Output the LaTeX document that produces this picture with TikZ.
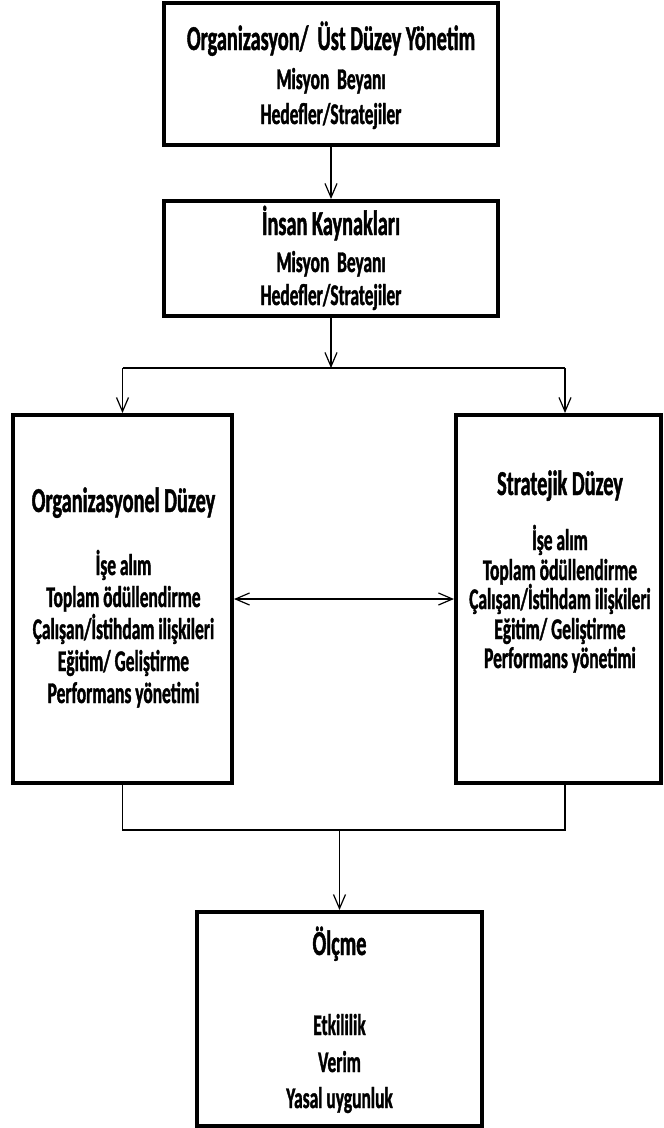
\documentclass[tikz,border=0pt]{standalone}
\usepackage{fontspec}
\setmainfont{Carlito}[FakeStretch=0.58, FakeBold=1.2]
\usetikzlibrary{arrows.meta}
\begin{document}
\begin{tikzpicture}[x=1pt,y=-1pt,
  panel/.style={draw, line width=4pt, inner sep=0pt},
  conn/.style={draw, line width=1.3pt},
  tip/.style={-{Straight Barb[length=14pt,width=12pt,line width=1.2pt]}},
  twotip/.style={{Straight Barb[length=14pt,width=12pt,line width=1.2pt]}-{Straight Barb[length=14pt,width=12pt,line width=1.2pt]}},
  headtext/.style={font=\bfseries\fontsize{35}{40}\selectfont, anchor=base, inner sep=0pt},
  linetext/.style={font=\bfseries\fontsize{30}{34}\selectfont, anchor=base, inner sep=0pt}
]
\useasboundingbox (0,0) rectangle (664,1128);

% boxes
\node[panel, minimum width=334pt, minimum height=142pt] (org) at (331,74) {};
\node[panel, minimum width=334pt, minimum height=115pt] (hr) at (331,258.5) {};
\node[panel, minimum width=219pt, minimum height=368pt] (orgl) at (122.5,599) {};
\node[panel, minimum width=205pt, minimum height=368pt] (strat) at (558.5,599) {};
\node[panel, minimum width=285pt, minimum height=214pt] (olc) at (339.5,1019) {};

% top box text
\node[headtext] (orgT) at (331,50) {Organizasyon/\ \ Üst Düzey Yönetim};
\node[linetext] (orgM) at (331,89) {Misyon\ \ Beyanı};
\node[linetext] (orgH) at (331,124) {Hedefler/Stratejiler};

% human resources text
\node[headtext] (hrT) at (331,235) {İnsan Kaynakları};
\node[linetext] (hrM) at (331,272) {Misyon\ \ Beyanı};
\node[linetext] (hrH) at (331,305) {Hedefler/Stratejiler};

% organisational level text
\node[headtext] (olT) at (123.5,512) {Organizasyonel Düzey};
\node[linetext] (ol1) at (123.5,575) {İşe alım};
\node[linetext] (ol2) at (123.5,607) {Toplam ödüllendirme};
\node[linetext] (ol3) at (123.5,639) {Çalışan/İstihdam ilişkileri};
\node[linetext] (ol4) at (123.5,671) {Eğitim/ Geliştirme};
\node[linetext] (ol5) at (123.5,703) {Performans yönetimi};

% strategic level text
\node[headtext] (slT) at (560,495) {Stratejik Düzey};
\node[linetext] (sl1) at (560,550) {İşe alım};
\node[linetext] (sl2) at (560,580) {Toplam ödüllendirme};
\node[linetext] (sl3) at (560,609) {Çalışan/İstihdam ilişkileri};
\node[linetext] (sl4) at (560,639) {Eğitim/ Geliştirme};
\node[linetext] (sl5) at (560,668) {Performans yönetimi};

% measurement text
\node[headtext] (msT) at (339.5,955) {Ölçme};
\node[linetext] (ms1) at (339.5,1035) {Etkililik};
\node[linetext] (ms2) at (339.5,1072) {Verim};
\node[linetext] (ms3) at (339.5,1108) {Yasal uygunluk};

% connectors
\coordinate (split) at (331,368);
\coordinate (splitL) at (122.5,368);
\coordinate (splitR) at (565,368);
\coordinate (join) at (339.5,830);
\coordinate (joinL) at (122.5,830);
\coordinate (joinR) at (565,830);

\draw[conn, tip] (org.south) -- (hr.north);
\draw[conn, tip] (hr.south) -- (split);
\draw[conn] (splitL) -- (splitR);
\draw[conn, tip] (splitL) -- (orgl.north);
\draw[conn, tip] (splitR) -- (splitR |- strat.north);
\draw[conn, twotip] (orgl.east) -- (strat.west);
\draw[conn] (orgl.south) -- (joinL) -- (joinR) -- (joinR |- strat.south);
\draw[conn, tip] (join) -- (olc.north);
\end{tikzpicture}
\end{document}
